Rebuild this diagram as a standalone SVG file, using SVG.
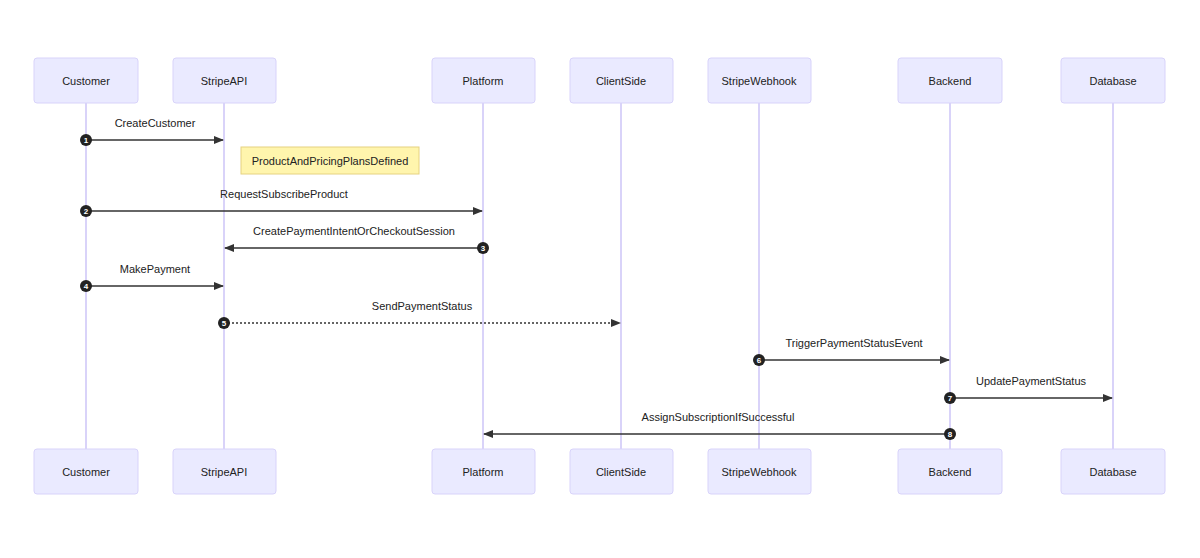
<svg xmlns="http://www.w3.org/2000/svg" width="1200" height="558" viewBox="0 0 1200 558">
<style>
.actor{fill:#eaeaff;stroke:#d8d3fa;stroke-width:1}
.at{font-family:"Liberation Sans",Arial,sans-serif;font-size:11px;fill:#222;text-anchor:middle;dominant-baseline:central}
.life{stroke:#cdc4f7;stroke-width:1.5}
.msg{stroke:#333;stroke-width:1.3;fill:none}
.dot{stroke-dasharray:2,2}
.ml{font-family:"Liberation Sans",Arial,sans-serif;font-size:11px;fill:#222;text-anchor:middle}
.num circle{fill:#222}
.num text{font-family:"Liberation Sans",sans-serif;font-size:8px;font-weight:bold;fill:#fff;text-anchor:middle;dominant-baseline:central}
</style>
<defs><marker id="ah" markerWidth="10" markerHeight="8" refX="9" refY="4" orient="auto" markerUnits="userSpaceOnUse"><path d="M0,0L10,4L0,8z" fill="#333"/></marker></defs>
<rect width="1200" height="558" fill="#fff"/>
<g id="lifelines">
<line class="life" x1="86" y1="103" x2="86" y2="449"/><line class="life" x1="224" y1="103" x2="224" y2="449"/><line class="life" x1="483" y1="103" x2="483" y2="449"/><line class="life" x1="621" y1="103" x2="621" y2="449"/><line class="life" x1="759" y1="103" x2="759" y2="449"/><line class="life" x1="950" y1="103" x2="950" y2="449"/><line class="life" x1="1113" y1="103" x2="1113" y2="449"/>
</g>
<g id="customer"><rect class="actor" x="34" y="58" width="104" height="45" rx="3"/><text class="at" x="86" y="81">Customer</text><rect class="actor" x="34" y="449" width="104" height="45" rx="3"/><text class="at" x="86" y="472">Customer</text></g>
<g id="stripeapi"><rect class="actor" x="173" y="58" width="103" height="45" rx="3"/><text class="at" x="224" y="81">StripeAPI</text><rect class="actor" x="173" y="449" width="103" height="45" rx="3"/><text class="at" x="224" y="472">StripeAPI</text></g>
<g id="platform"><rect class="actor" x="432" y="58" width="103" height="45" rx="3"/><text class="at" x="483" y="81">Platform</text><rect class="actor" x="432" y="449" width="103" height="45" rx="3"/><text class="at" x="483" y="472">Platform</text></g>
<g id="clientside"><rect class="actor" x="570" y="58" width="103" height="45" rx="3"/><text class="at" x="621" y="81">ClientSide</text><rect class="actor" x="570" y="449" width="103" height="45" rx="3"/><text class="at" x="621" y="472">ClientSide</text></g>
<g id="stripewebhook"><rect class="actor" x="708" y="58" width="103" height="45" rx="3"/><text class="at" x="759" y="81">StripeWebhook</text><rect class="actor" x="708" y="449" width="103" height="45" rx="3"/><text class="at" x="759" y="472">StripeWebhook</text></g>
<g id="backend"><rect class="actor" x="898" y="58" width="104" height="45" rx="3"/><text class="at" x="950" y="81">Backend</text><rect class="actor" x="898" y="449" width="104" height="45" rx="3"/><text class="at" x="950" y="472">Backend</text></g>
<g id="database"><rect class="actor" x="1061" y="58" width="104" height="45" rx="3"/><text class="at" x="1113" y="81">Database</text><rect class="actor" x="1061" y="449" width="104" height="45" rx="3"/><text class="at" x="1113" y="472">Database</text></g>
<g id="note"><rect x="241" y="147" width="178" height="27" fill="#fff5ad" stroke="#e6d280"/><text class="at" x="330" y="160.5">ProductAndPricingPlansDefined</text></g>
<g id="connectors">
<line class="msg" x1="86" y1="140" x2="223" y2="140" marker-end="url(#ah)"/><text class="ml" x="155" y="127">CreateCustomer</text>
<line class="msg" x1="86" y1="211" x2="482" y2="211" marker-end="url(#ah)"/><text class="ml" x="284" y="198">RequestSubscribeProduct</text>
<line class="msg" x1="483" y1="248" x2="225" y2="248" marker-end="url(#ah)"/><text class="ml" x="354" y="235">CreatePaymentIntentOrCheckoutSession</text>
<line class="msg" x1="86" y1="286" x2="223" y2="286" marker-end="url(#ah)"/><text class="ml" x="155" y="273">MakePayment</text>
<line class="msg dot" x1="224" y1="323" x2="620" y2="323" marker-end="url(#ah)"/><text class="ml" x="422" y="310">SendPaymentStatus</text>
<line class="msg" x1="759" y1="360" x2="949" y2="360" marker-end="url(#ah)"/><text class="ml" x="854" y="347">TriggerPaymentStatusEvent</text>
<line class="msg" x1="950" y1="398" x2="1112" y2="398" marker-end="url(#ah)"/><text class="ml" x="1031" y="385">UpdatePaymentStatus</text>
<line class="msg" x1="950" y1="434" x2="484" y2="434" marker-end="url(#ah)"/><text class="ml" x="718" y="421">AssignSubscriptionIfSuccessful</text>
<g class="num">
<circle cx="86" cy="140" r="6"/><text x="86" y="140">1</text>
<circle cx="86" cy="211" r="6"/><text x="86" y="211">2</text>
<circle cx="483" cy="248" r="6"/><text x="483" y="248">3</text>
<circle cx="86" cy="286" r="6"/><text x="86" y="286">4</text>
<circle cx="224" cy="323" r="6"/><text x="224" y="323">5</text>
<circle cx="759" cy="360" r="6"/><text x="759" y="360">6</text>
<circle cx="950" cy="398" r="6"/><text x="950" y="398">7</text>
<circle cx="950" cy="434" r="6"/><text x="950" y="434">8</text>
</g>
</g>
</svg>
